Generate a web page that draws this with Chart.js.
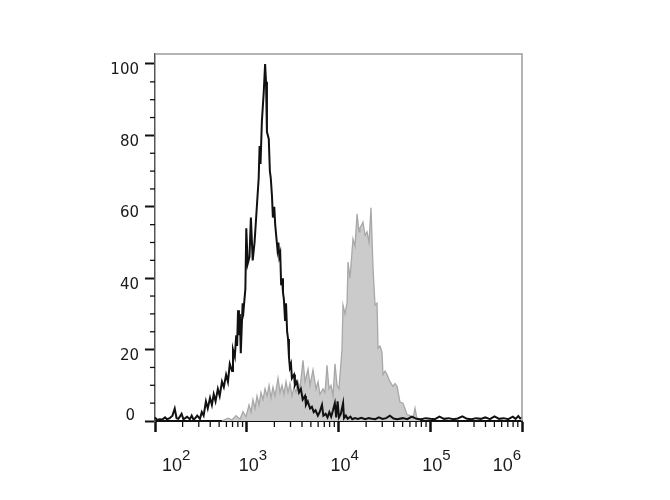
<!DOCTYPE html>
<html>
<head>
<meta charset="utf-8">
<script src="https://cdn.jsdelivr.net/npm/chart.js@4.4.1/dist/chart.umd.min.js"></script>
<style>
html,body{margin:0;padding:0;background:#ffffff;}
#c{display:block;}
</style>
</head>
<body>
<canvas id="c" width="670" height="500"></canvas>
<script>
// ---- data (x in log10 of fluorescence intensity, y = % of max) ----
const blackLog = [2.000,2.020,2.050,2.080,2.110,2.130,2.160,2.190,2.215,2.235,2.255,2.290,2.310,2.330,2.350,2.380,2.400,2.420,2.440,2.460,2.490,2.510,2.530,2.555,2.575,2.600,2.620,2.640,2.660,2.685,2.705,2.730,2.750,2.775,2.795,2.815,2.840,2.850,2.870,2.885,2.895,2.905,2.915,2.925,2.935,2.955,2.965,2.985,2.995,3.010,3.030,3.045,3.065,3.085,3.110,3.130,3.140,3.150,3.165,3.185,3.200,3.210,3.220,3.240,3.252,3.262,3.275,3.285,3.300,3.310,3.335,3.345,3.355,3.365,3.375,3.385,3.395,3.405,3.418,3.428,3.440,3.450,3.460,3.470,3.482,3.492,3.515,3.525,3.545,3.570,3.590,3.610,3.635,3.645,3.665,3.690,3.710,3.730,3.750,3.775,3.795,3.820,3.835,3.860,3.880,3.900,3.920,3.940,3.960,3.975,3.990,4.005,4.025,4.050,4.060,4.080,4.100,4.130,4.150,4.180,4.210,4.250,4.290,4.330,4.370,4.400,4.440,4.480,4.520,4.560,4.600,4.640,4.700,4.750,4.800,4.850,4.900,4.950,5.000,5.050,5.100,5.150,5.200,5.250,5.300,5.350,5.400,5.450,5.500,5.550,5.600,5.650,5.700,5.750,5.800,5.850,5.900,5.930,5.960,5.980,6.000];
const blackCount = [1.0,0.3,0.5,0.4,1.0,0.5,0.8,1.5,3.5,0.8,0.6,2.0,0.5,0.8,1.2,0.5,1.5,0.4,0.8,1.5,0.6,2.5,1.5,5.5,3.5,6.5,4.5,7.5,5.5,9,7,11,9.5,13,11,16,14,20,18,24,21,31,24,30,19,33,31,37,54,44,46,57,45,50,60,68,77,72,84,92,100,95,81,79,70,68,63,57,60,55,48,50,46,47,38,40,36,34,28,33,25,23,18,15,16,12,13,10,11,8,9,6,7,4.5,5.5,3.5,4,2.5,3,1.5,2.5,4.5,1.5,2,1.0,2.5,1.2,3.0,5.0,1.0,5.5,1.0,2.0,5.0,0.8,1.5,0.6,1.2,0.5,0.8,0.6,0.9,0.5,0.8,0.6,0.5,1.0,0.6,0.8,1.5,0.7,0.5,0.8,0.5,1.2,0.6,0.5,0.8,0.6,0.5,1.2,0.6,0.8,0.5,0.7,1.3,0.6,0.5,0.8,0.6,1.0,0.5,1.3,0.6,0.8,0.5,1.2,0.6,1.4,0.7,1.0];

const greyLog = [2.730,2.796,2.839,2.883,2.926,2.959,2.992,3.025,3.046,3.068,3.090,3.112,3.134,3.155,3.177,3.199,3.221,3.243,3.264,3.286,3.308,3.341,3.362,3.384,3.406,3.428,3.450,3.471,3.493,3.515,3.537,3.559,3.580,3.613,3.635,3.668,3.689,3.722,3.755,3.777,3.798,3.831,3.853,3.875,3.896,3.918,3.940,3.962,3.984,4.005,4.038,4.049,4.071,4.093,4.104,4.125,4.158,4.180,4.202,4.224,4.234,4.267,4.289,4.311,4.333,4.354,4.376,4.398,4.420,4.431,4.452,4.474,4.485,4.507,4.529,4.561,4.594,4.616,4.638,4.670,4.703,4.747,4.779,4.812,4.834,4.856,4.888];
const greyCount = [0,0.8,0.3,1.5,0.5,2.6,1.2,4.5,2.5,6,3.5,7,4.5,8,6,9,7,10,6.5,9.5,7,12,8,10,7.5,11,8,10.5,7,9.5,8,11,9,17,11,14.5,10,14.3,9,11,7.5,9,8,15.6,9,10,7,16,10,9,20,32.5,30,33,44.5,40,51,49,58,53,54,55.7,52,53,50,59.7,43,32.5,33,20.4,21,19.3,13,14,13,11,9.7,10.5,9.7,5.3,5,1.8,1.5,0.8,3.6,0.5,0];

const yTickValues = [0,20,40,60,80,100];
const yTickLabels = ['0','20','40','60','80','100'];
const xDecades = [2,3,4,5,6];
const xLabelBase = '10';
const xLabelExp = ['2','3','4','5','6'];

const toPoints = (xs, ys) => xs.map((v, i) => ({x: v, y: ys[i]}));

const decor = {
  id: 'decor',
  afterDraw(chart) {
    const {ctx, chartArea: a, scales: {x, y}} = chart;
    ctx.save();
    // top and right frame
    ctx.strokeStyle = '#9c9c9c';
    ctx.lineWidth = 1.5;
    ctx.beginPath();
    ctx.moveTo(a.left, a.top);
    ctx.lineTo(a.right, a.top);
    ctx.lineTo(a.right, a.bottom);
    ctx.stroke();
    // minor x ticks
    ctx.strokeStyle = '#111';
    ctx.lineWidth = 1.3;
    for (let i = 0; i < xDecades.length - 1; i++) {
      for (let k = 2; k < 10; k++) {
        const px = x.getPixelForValue(xDecades[i] + Math.log10(k));
        ctx.beginPath();
        ctx.moveTo(px, a.bottom);
        ctx.lineTo(px, a.bottom + 6);
        ctx.stroke();
      }
    }
    // minor y ticks
    for (let v = 5; v < 100; v += 5) {
      if (v % 20 === 0) continue;
      const py = y.getPixelForValue(v);
      ctx.beginPath();
      ctx.moveTo(a.left - 5, py);
      ctx.lineTo(a.left, py);
      ctx.stroke();
    }
    // y labels
    ctx.fillStyle = '#1a1a1a';
    ctx.font = '15px "DejaVu Sans"';
    ctx.textAlign = 'right';
    ctx.textBaseline = 'middle';
    yTickValues.forEach((v, i) => {
      const py = y.getPixelForValue(v);
      ctx.fillText(yTickLabels[i], v === 0 ? a.left - 20 : a.left - 16, v === 0 ? py - 5 : py + 6.5);
    });
    // x labels 10^n
    ctx.textAlign = 'left';
    ctx.textBaseline = 'alphabetic';
    const baseFont = '18px "Liberation Sans"';
    const expFont = '15px "Liberation Sans"';
    xDecades.forEach((d, i) => {
      const px = x.getPixelForValue(d);
      ctx.font = baseFont;
      const wb = ctx.measureText(xLabelBase).width;
      ctx.font = expFont;
      const we = ctx.measureText(xLabelExp[i]).width;
      let left = px - 8;
      if (left < a.left + 7) left = a.left + 7;
      if (left + wb + we > a.right - 1) left = a.right - 1 - wb - we;
      ctx.font = baseFont;
      ctx.fillText(xLabelBase, left, a.bottom + 50);
      ctx.font = expFont;
      ctx.fillText(xLabelExp[i], left + wb, a.bottom + 39);
    });
    ctx.restore();
  }
};

new Chart(document.getElementById('c'), {
  type: 'line',
  data: {
    datasets: [
      {
        label: 'Isotype',
        data: toPoints(blackLog, blackCount),
        borderColor: '#111111',
        borderWidth: 2,
        fill: false,
        pointRadius: 0,
        tension: 0,
        clip: 4,
        order: 0
      },
      {
        label: 'Stained',
        data: toPoints(greyLog, greyCount),
        borderColor: '#a8a8a8',
        backgroundColor: '#cbcbcb',
        borderWidth: 1.3,
        fill: 'origin',
        pointRadius: 0,
        tension: 0,
        clip: 4,
        order: 1
      }
    ]
  },
  options: {
    responsive: false,
    animation: false,
    layout: {padding: {top: 54, right: 148, left: 0, bottom: 0}},
    plugins: {legend: {display: false}, tooltip: {enabled: false}},
    scales: {
      x: {
        type: 'linear',
        min: 2,
        max: 6,
        afterFit: s => { s.height = 79; },
        border: {display: true, color: '#111', width: 2},
        grid: {drawOnChartArea: false, drawTicks: true, tickLength: 11, tickWidth: 2.5, tickColor: '#111'},
        ticks: {stepSize: 1, autoSkip: false, color: 'rgba(0,0,0,0)', font: {size: 10}}
      },
      y: {
        type: 'linear',
        min: 0,
        max: 102.8,
        afterFit: s => { s.width = 155; },
        border: {display: true, color: '#555', width: 1.5},
        grid: {drawOnChartArea: false, drawTicks: true, tickLength: 10, tickWidth: 2, tickColor: '#111'},
        ticks: {stepSize: 20, includeBounds: false, color: 'rgba(0,0,0,0)', font: {size: 10}}
      }
    }
  },
  plugins: [decor]
});
</script>
</body>
</html>
